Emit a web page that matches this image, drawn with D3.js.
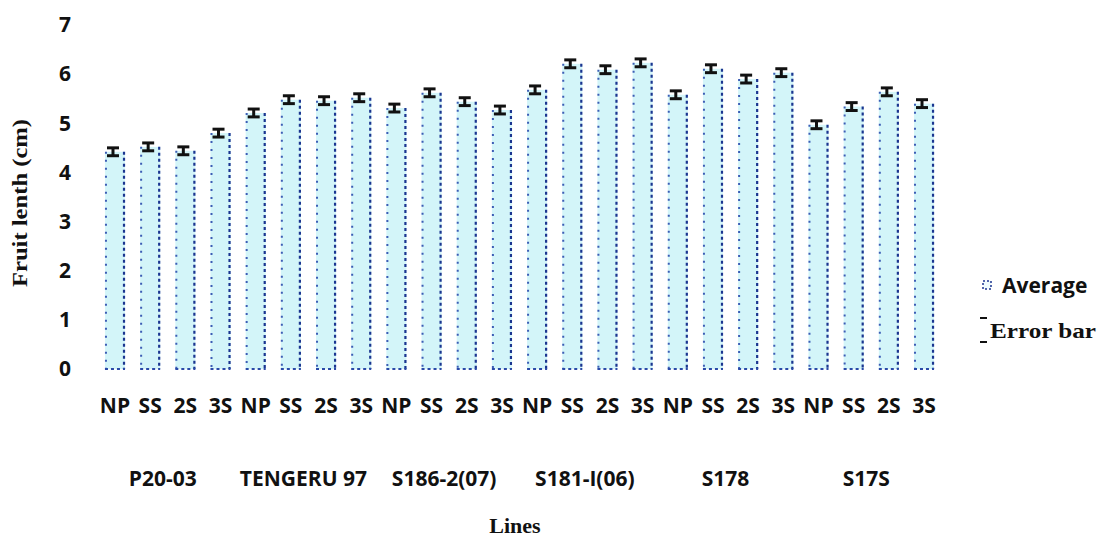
<!DOCTYPE html>
<html lang="en">
  <head>
    <meta charset="UTF-8" />
    <title>Fruit length by line</title>
    <script src="https://d3js.org/d3.v7.min.js"></script>
    <style>
      body { margin: 0; background: #fff; }
      .tick-lbl { font-family: "Open Sans", Lato, sans-serif; font-weight: 700; font-size: 21px; fill: #111; }
      .title-lbl { font-family: "Liberation Serif", serif; font-weight: 700; fill: #111; }
    </style>
  </head>
  <body>
    <svg id="chart" width="1101" height="538"></svg>
    <script>
      // data
      const lines = ["P20-03", "TENGERU 97", "S186-2(07)", "S181-I(06)", "S178", "S17S"];
      const treatments = ["NP", "SS", "2S", "3S"];
      const averages = [
        4.42, 4.52, 4.44, 4.80,
        5.21, 5.48, 5.46, 5.52,
        5.31, 5.62, 5.44, 5.27,
        5.68, 6.21, 6.09, 6.23,
        5.58, 6.11, 5.90, 6.03,
        4.97, 5.34, 5.64, 5.40
      ];
      const errors = [
        0.08, 0.08, 0.08, 0.08,
        0.08, 0.08, 0.08, 0.08,
        0.08, 0.08, 0.08, 0.08,
        0.08, 0.08, 0.08, 0.08,
        0.08, 0.08, 0.08, 0.08,
        0.08, 0.08, 0.08, 0.08
      ];
      const yTicks = [0, 1, 2, 3, 4, 5, 6, 7];

      const data = [];
      lines.forEach((l, i) => treatments.forEach((t, j) => {
        const k = i * 4 + j;
        data.push({ key: l + "|" + t, line: l, trt: t, avg: averages[k], err: errors[k] });
      }));

      const svg = d3.select("#chart");

      const x = d3.scaleBand()
        .domain(data.map(d => d.key))
        .range([97.4, 941.6])
        .paddingInner(0.43)
        .paddingOuter(0.215);

      const y = d3.scaleLinear().domain([0, 7]).range([369, 25]);

      // bars: pale cyan fill with dotted blue edges
      const bars = svg.append("g");
      bars.selectAll("rect.fill")
        .data(data)
        .join("rect")
        .attr("class", "fill")
        .attr("x", d => x(d.key))
        .attr("y", d => y(d.avg))
        .attr("width", x.bandwidth())
        .attr("height", d => y(0) - y(d.avg))
        .attr("fill", "#d3f5f9");

      bars.selectAll("line.left")
        .data(data)
        .join("line")
        .attr("class", "left")
        .attr("x1", d => x(d.key) + 1)
        .attr("x2", d => x(d.key) + 1)
        .attr("y1", d => y(d.avg))
        .attr("y2", y(0))
        .attr("stroke", "#3d5db5")
        .attr("stroke-width", 2)
        .attr("stroke-dasharray", "2,6");

      bars.selectAll("line.right")
        .data(data)
        .join("line")
        .attr("class", "right")
        .attr("x1", d => x(d.key) + x.bandwidth() - 1)
        .attr("x2", d => x(d.key) + x.bandwidth() - 1)
        .attr("y1", d => y(d.avg))
        .attr("y2", y(0))
        .attr("stroke", "#1b3590")
        .attr("stroke-width", 2.2)
        .attr("stroke-dasharray", "3,3");

      bars.selectAll("line.bottom")
        .data(data)
        .join("line")
        .attr("class", "bottom")
        .attr("x1", d => x(d.key))
        .attr("x2", d => x(d.key) + x.bandwidth())
        .attr("y1", y(0))
        .attr("y2", y(0))
        .attr("stroke", "#2a4aa8")
        .attr("stroke-width", 2)
        .attr("stroke-dasharray", "3,3");

      // error bars
      const eb = svg.append("g").attr("stroke", "#111").attr("stroke-width", 3);
      data.forEach(d => {
        const cx = x(d.key) + x.bandwidth() / 2 - 2;
        eb.append("line").attr("x1", cx).attr("x2", cx)
          .attr("y1", y(d.avg + d.err)).attr("y2", y(d.avg - d.err));
        eb.append("line").attr("x1", cx - 6).attr("x2", cx + 6)
          .attr("y1", y(d.avg + d.err)).attr("y2", y(d.avg + d.err));
        eb.append("line").attr("x1", cx - 6).attr("x2", cx + 6)
          .attr("y1", y(d.avg - d.err)).attr("y2", y(d.avg - d.err));
      });

      // y axis labels
      svg.append("g")
        .attr("transform", "translate(71,0)")
        .call(d3.axisLeft(y).tickValues(yTicks).tickFormat(d3.format("d")).tickSize(0).tickPadding(0))
        .call(g => g.select(".domain").remove())
        .selectAll("text")
        .attr("class", "tick-lbl")
        .attr("font-size", null)
        .attr("font-family", null);

      // x treatment labels
      svg.append("g")
        .attr("transform", "translate(0,398)")
        .call(d3.axisBottom(x).tickSize(0).tickPadding(0).tickFormat(k => k.split("|")[1]))
        .call(g => g.select(".domain").remove())
        .selectAll("text")
        .attr("class", "tick-lbl")
        .attr("font-size", null)
        .attr("font-family", null);

      // line group labels
      svg.append("g").selectAll("text")
        .data(lines)
        .join("text")
        .attr("class", "tick-lbl")
        .attr("text-anchor", "middle")
        .attr("x", l => {
          const first = x(l + "|NP"), last = x(l + "|3S") + x.bandwidth();
          return (first + last) / 2 - 5;
        })
        .attr("y", 486)
        .text(l => l);

      // axis titles
      svg.append("text")
        .attr("class", "title-lbl")
        .attr("transform", "translate(27,203) rotate(-90)")
        .attr("text-anchor", "middle")
        .attr("font-size", 21)
        .attr("textLength", 168)
        .attr("lengthAdjust", "spacingAndGlyphs")
        .text("Fruit lenth (cm)");

      svg.append("text")
        .attr("class", "title-lbl")
        .attr("x", 515)
        .attr("y", 533)
        .attr("text-anchor", "middle")
        .attr("font-size", 22)
        .text("Lines");

      // legend
      const lg = svg.append("g");
      lg.append("rect")
        .attr("x", 983).attr("y", 281).attr("width", 8).attr("height", 8)
        .attr("fill", "#eefbfd").attr("stroke", "#1b3590")
        .attr("stroke-width", 1.5).attr("stroke-dasharray", "2,2");
      lg.append("text")
        .attr("class", "tick-lbl")
        .attr("x", 1002).attr("y", 293)
        .text("Average");
      lg.append("line").attr("x1", 980).attr("x2", 987).attr("y1", 318).attr("y2", 318)
        .attr("stroke", "#111").attr("stroke-width", 2);
      lg.append("line").attr("x1", 980).attr("x2", 987).attr("y1", 342).attr("y2", 342)
        .attr("stroke", "#111").attr("stroke-width", 2);
      lg.append("text")
        .attr("class", "title-lbl")
        .attr("x", 990).attr("y", 338)
        .attr("font-size", 22)
        .attr("textLength", 106)
        .attr("lengthAdjust", "spacingAndGlyphs")
        .text("Error bar");
    </script>
  </body>
</html>
